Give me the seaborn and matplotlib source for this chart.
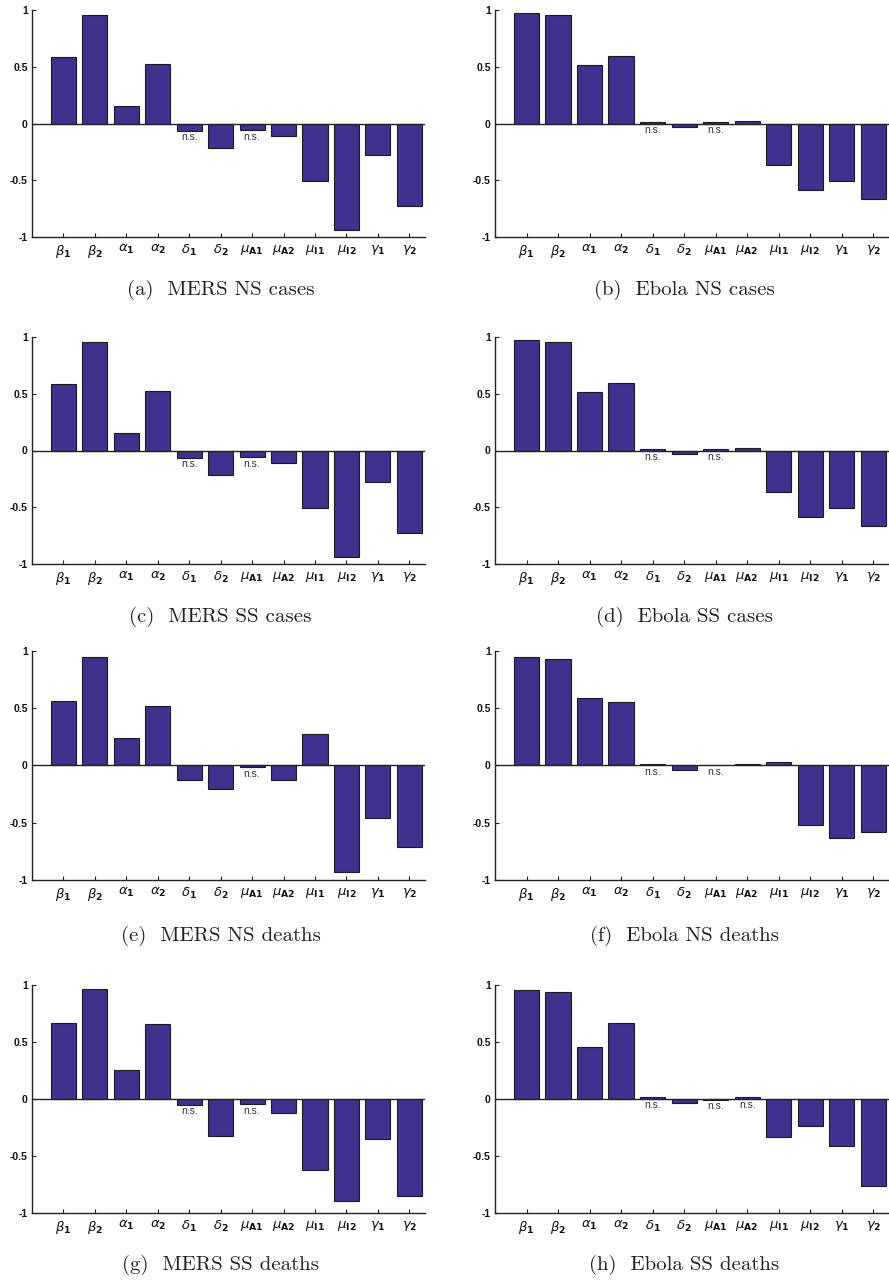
import matplotlib
matplotlib.use("Agg")
import matplotlib.pyplot as plt
import numpy as np
import pandas as pd
import seaborn as sns

sns.set_style("ticks")
plt.rcParams["font.family"] = ["Liberation Sans", "DejaVu Sans"]
plt.rcParams["mathtext.fontset"] = "dejavusans"

# ---------------- data ----------------
params = ["b1", "b2", "a1", "a2", "d1", "d2", "mA1", "mA2", "mI1", "mI2", "g1", "g2"]
tick_labels = [r"$\beta_{\mathbf{1}}$", r"$\beta_{\mathbf{2}}$",
               r"$\alpha_{\mathbf{1}}$", r"$\alpha_{\mathbf{2}}$",
               r"$\delta_{\mathbf{1}}$", r"$\delta_{\mathbf{2}}$",
               r"$\mu_{\mathbf{A1}}$", r"$\mu_{\mathbf{A2}}$",
               r"$\mu_{\mathbf{I1}}$", r"$\mu_{\mathbf{I2}}$",
               r"$\gamma_{\mathbf{1}}$", r"$\gamma_{\mathbf{2}}$"]
y_ticks = [-1, -0.5, 0, 0.5, 1]
y_tick_labels = ["-1", "-0.5", "0", "0.5", "1"]

mers_ns_cases = [0.588, 0.956, 0.152, 0.520, -0.067, -0.219, -0.061, -0.114, -0.509, -0.936, -0.278, -0.725]
ebola_ns_cases = [0.971, 0.953, 0.512, 0.599, 0.015, -0.032, 0.009, 0.020, -0.365, -0.585, -0.509, -0.661]
mers_ss_cases = [0.588, 0.956, 0.152, 0.520, -0.067, -0.219, -0.061, -0.114, -0.509, -0.936, -0.278, -0.725]
ebola_ss_cases = [0.971, 0.953, 0.512, 0.599, 0.015, -0.032, 0.009, 0.020, -0.365, -0.585, -0.509, -0.661]
mers_ns_deaths = [0.560, 0.950, 0.242, 0.519, -0.131, -0.201, -0.017, -0.128, 0.274, -0.933, -0.461, -0.714]
ebola_ns_deaths = [0.950, 0.930, 0.589, 0.554, 0.015, -0.038, 0.006, 0.015, 0.029, -0.516, -0.636, -0.580]
mers_ss_deaths = [0.666, 0.965, 0.255, 0.660, -0.053, -0.328, -0.047, -0.126, -0.625, -0.894, -0.352, -0.848]
ebola_ss_deaths = [0.953, 0.935, 0.452, 0.669, 0.018, -0.038, -0.006, 0.020, -0.331, -0.238, -0.413, -0.760]

ns_mers_ns_cases = ["d1", "mA1"]
ns_ebola_ns_cases = ["d1", "mA1"]
ns_mers_ss_cases = ["d1", "mA1"]
ns_ebola_ss_cases = ["d1", "mA1"]
ns_mers_ns_deaths = ["mA1"]
ns_ebola_ns_deaths = ["d1", "mA1"]
ns_mers_ss_deaths = ["d1", "mA1"]
ns_ebola_ss_deaths = ["d1", "mA1", "mA2"]

captions = ["(a)  MERS NS cases", "(b)  Ebola NS cases",
            "(c)  MERS SS cases", "(d)  Ebola SS cases",
            "(e)  MERS NS deaths", "(f)  Ebola NS deaths",
            "(g)  MERS SS deaths", "(h)  Ebola SS deaths"]

panels = [(mers_ns_cases, ns_mers_ns_cases), (ebola_ns_cases, ns_ebola_ns_cases),
          (mers_ss_cases, ns_mers_ss_cases), (ebola_ss_cases, ns_ebola_ss_cases),
          (mers_ns_deaths, ns_mers_ns_deaths), (ebola_ns_deaths, ns_ebola_ns_deaths),
          (mers_ss_deaths, ns_mers_ss_deaths), (ebola_ss_deaths, ns_ebola_ss_deaths)]

# ---------------- layout ----------------
W, H = 889, 1282
fig = plt.figure(figsize=(W / 100, H / 100), dpi=100)
cols = [(32, 425), (495, 889)]
rows = [(10, 237), (337, 564), (651, 880), (985, 1213)]
cap_y = [290, 617, 936, 1265]

bar_color = "#3F318E"
edge_color = "#1c1c1c"

for i, ((vals, ns), cap) in enumerate(zip(panels, captions)):
    r, c = divmod(i, 2)
    x0, x1 = cols[c]
    y0, y1 = rows[r]
    ax = fig.add_axes([x0 / W, 1 - y1 / H, (x1 - x0) / W, (y1 - y0) / H])
    df = pd.DataFrame({"param": params, "value": vals})
    sns.barplot(data=df, x="param", y="value", order=params, ax=ax,
                color=bar_color, saturation=1, width=0.8,
                edgecolor=edge_color, linewidth=0.8, errorbar=None)
    ax.axhline(0, color="#222222", lw=1.0, zorder=5)
    ax.set_xlim(-1, 11.5)
    ax.set_ylim(-1, 1)
    ax.set_xlabel("")
    ax.set_ylabel("")
    ax.set_yticks(y_ticks)
    ax.set_yticklabels(y_tick_labels, fontsize=7.5, fontweight="bold")
    ax.set_xticks(range(len(params)))
    ax.set_xticklabels(tick_labels, fontsize=9.5)
    ax.tick_params(axis="both", direction="in", length=3, width=0.8, colors="#222222",
                   labelcolor="#111111")
    ax.tick_params(axis="x", pad=4)
    ax.tick_params(axis="y", pad=3)
    for s in ["top", "right"]:
        ax.spines[s].set_visible(False)
    for s in ["left", "bottom"]:
        ax.spines[s].set_color("#222222")
        ax.spines[s].set_linewidth(1.0)
    ax.patch.set_alpha(0)
    for name in ns:
        j = params.index(name)
        v = vals[j]
        ax.text(j, min(v, 0) - 0.012, "n.s.", ha="center", va="top",
                fontsize=7.5, color="#333333", zorder=6)
    fig.text(((x0 + x1) / 2 - 8) / W, 1 - cap_y[r] / H, cap, ha="center", va="center",
             fontsize=15, family=["cmr10", "DejaVu Serif"], color="#222222")

fig.savefig("out.png", dpi=100)
